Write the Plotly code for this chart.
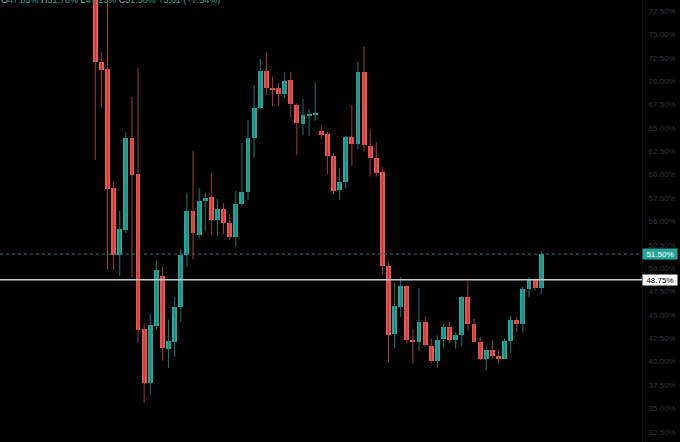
import plotly.graph_objects as go

# ---- data (percent values) ----
opens = [80.5, 72.08, 71.27, 58.56, 51.36, 54.10, 63.9, 60.09, 43.5, 37.72,
         43.85, 49.19, 41.39, 42.06, 45.88, 51.40, 56.16, 53.49, 57.17, 57.63,
         55.10, 56.35, 54.82, 53.32, 56.81, 58.09, 63.9, 67.17, 71.09, 69.3,
         69.31, 68.63, 70.13, 67.49, 65.43, 66.3, 66.45, 64.71, 64.33, 62.01,
         58.34, 59.2, 64.01, 63.29, 70.98, 63.11, 61.76, 60.27, 50.26, 42.96,
         45.84, 48.12, 42.3, 42.06, 44.2, 41.71, 40.03, 42.43, 43.71, 42.28,
         42.85, 46.87, 44.06, 42.1, 40.29, 41.28, 40.64, 40.32, 42.17, 44.49,
         44.06, 47.8, 48.84, 47.83]
highs = [81.0, 73.09, 79.5, 59.26, 56.13, 64.5, 68.31, 71.38, 44.06, 45.13,
         50.79, 50.18, 44.49, 46.87, 52.07, 58.09, 62.54, 58.56, 58.09, 60.16,
         57.38, 56.95, 55.78, 58.27, 63.37, 65.85, 69.59, 72.37, 73.04, 70.48,
         69.78, 70.95, 70.95, 67.64, 68.07, 67.0, 69.88, 65.21, 64.54, 62.3,
         60.69, 64.15, 67.46, 72.08, 73.69, 64.89, 63.47, 60.8, 50.61, 48.41,
         49.01, 48.2, 43.5, 47.87, 44.78, 42.46, 42.81, 44.06, 44.24, 43.17,
         47.0, 48.65, 44.56, 42.64, 41.63, 42.24, 41.18, 42.46, 44.92, 44.73,
         48.05, 49.05, 48.9, 51.78]
lows = [61.58, 67.28, 49.9, 49.75, 49.19, 53.75, 49.05, 42.0, 35.59, 36.47,
        43.42, 40.11, 39.33, 40.5, 44.24, 50.18, 50.97, 53.11, 53.92, 53.57,
        53.46, 53.64, 53.03, 52.32, 56.7, 57.31, 61.83, 67.0, 68.53, 67.28,
        67.35, 68.17, 66.14, 62.08, 64.25, 64.15, 65.78, 63.79, 60.09, 57.95,
        57.31, 58.52, 60.94, 62.76, 62.47, 59.8, 59.8, 49.3, 39.86, 41.46,
        44.78, 41.92, 39.79, 41.21, 41.63, 39.86, 39.33, 41.46, 41.99, 41.39,
        41.63, 43.34, 42.05, 40.14, 39.07, 40.32, 39.79, 40.29, 40.86, 43.17,
        43.07, 46.91, 47.62, 47.23]
closes = [72.02, 71.20, 58.45, 51.36, 54.18, 63.96, 60.01, 43.34, 37.72, 43.88,
          49.83, 41.42, 42.17, 45.88, 51.40, 56.16, 53.75, 57.17, 57.55, 55.10,
          56.31, 54.88, 53.28, 56.88, 58.13, 63.9, 67.1, 71.09, 69.24, 69.15,
          68.63, 70.05, 67.56, 65.5, 66.39, 66.42, 66.57, 64.25, 62.01, 58.3,
          59.2, 64.01, 63.29, 71.02, 63.18, 61.76, 60.22, 50.26, 42.88, 45.91,
          48.12, 42.28, 42.15, 44.24, 41.78, 40.11, 42.35, 43.71, 42.28, 42.88,
          46.94, 44.06, 42.1, 40.32, 41.21, 40.57, 40.29, 42.24, 44.49, 44.06,
          47.8, 48.84, 47.89, 51.50]

tick_values = [32.5, 35.0, 37.5, 40.0, 42.5, 45.0, 47.5, 50.0, 52.5, 55.0,
               57.5, 60.0, 62.5, 65.0, 67.5, 70.0, 72.5, 75.0, 77.5]
tick_labels = [f"{v:.2f}%" for v in tick_values]

last_price = 51.50
ref_line = 48.75
header = {"O": "47.83%", "H": "51.78%", "L": "47.23%", "C": "51.50%"}
change_text = "+3.61 (+7.54%)"

UP = "#26a69a"
DOWN = "#ef5350"
UP_WICK = "#1d7a71"
DOWN_WICK = "#a83a38"

idx = list(range(len(opens)))
up = [c >= o for o, c in zip(opens, closes)]

fig = go.Figure()

# wicks
for flag, col in ((True, UP_WICK), (False, DOWN_WICK)):
    wx, wy = [], []
    for i in idx:
        if up[i] == flag:
            wx += [i, i, None]
            wy += [lows[i], highs[i], None]
    fig.add_trace(go.Scatter(x=wx, y=wy, mode="lines",
                             line=dict(color=col, width=1),
                             hoverinfo="skip", showlegend=False))

# bodies
fig.add_trace(go.Bar(
    x=idx,
    base=[min(o, c) for o, c in zip(opens, closes)],
    y=[abs(c - o) for o, c in zip(opens, closes)],
    width=0.8,
    marker=dict(color=[UP if u else DOWN for u in up], line=dict(width=0)),
    showlegend=False, hoverinfo="skip"))

# last price dotted line and reference line
fig.add_hline(y=last_price, line=dict(color="#1e7d74", width=1, dash="dot"))
fig.add_hline(y=ref_line, line=dict(color="#c8cad0", width=1.6))

# price labels on the axis
fig.add_annotation(xref="paper", x=1, xanchor="left", yref="y", y=last_price,
                   text=f"{last_price:.2f}%", showarrow=False,
                   bgcolor=UP, font=dict(color="#ffffff", size=8,
                                         family="Liberation Sans"),
                   width=34, height=10, borderpad=0, xshift=0)
fig.add_annotation(xref="paper", x=1, xanchor="left", yref="y", y=ref_line,
                   text=f"{ref_line:.2f}%", showarrow=False,
                   bgcolor="#ffffff", font=dict(color="#000000", size=8,
                                                family="Liberation Sans"),
                   width=34, height=10, borderpad=0, xshift=0)

# header (OHLC legend), partly cut at the top as in the reference
gray = "#b2b5be"
parts = []
for k, v in header.items():
    parts.append(f'<span style="color:{gray}">{k}</span><span style="color:{UP}">{v}</span>')
htxt = " ".join(parts) + f' <span style="color:{UP}">{change_text}</span>'
fig.add_annotation(xref="paper", x=0, xanchor="left", yref="paper", y=1,
                   yanchor="middle", text=htxt, showarrow=False,
                   font=dict(size=9, family="Liberation Sans"), yshift=0,
                   xshift=-1)

fig.update_layout(
    width=680, height=442,
    margin=dict(l=0, r=38, t=0, b=0),
    paper_bgcolor="#000000", plot_bgcolor="#000000",
    bargap=0, showlegend=False,
    xaxis=dict(range=[-15.6, 89.5], visible=False, showgrid=False,
               zeroline=False),
    yaxis=dict(range=[31.4, 78.68], side="right", showgrid=False,
               zeroline=False, showline=True, linecolor="#101010",
               linewidth=1, ticks="", tickvals=tick_values,
               ticktext=tick_labels, ticklabelstandoff=4,
               tickfont=dict(color="#33363f", size=8,
                             family="Liberation Sans")),
)

fig.write_html(
    "out.html",
    config={"displayModeBar": False},
    post_script="document.body.style.margin='0';"
                "document.body.style.background='#000';"
                "document.body.style.overflow='hidden';",
)
